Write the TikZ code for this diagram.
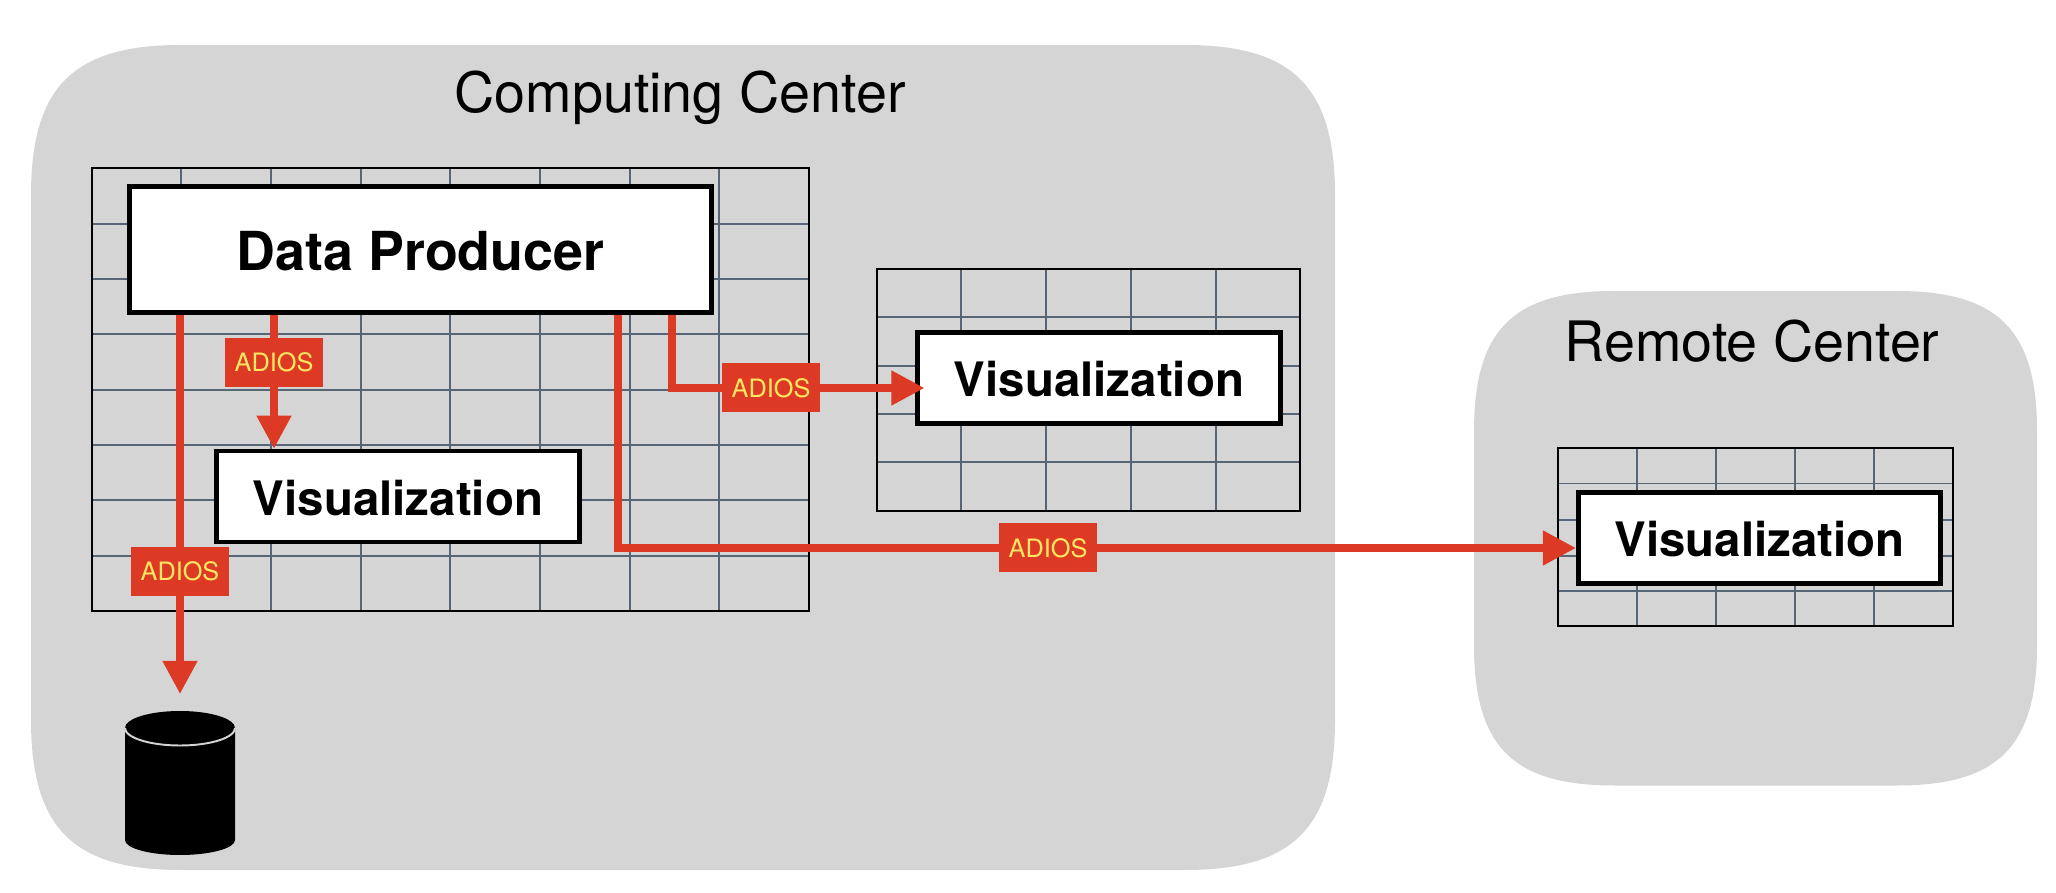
\documentclass[tikz,border=0pt]{standalone}
\usepackage{fontspec}
\setmainfont{TeX Gyre Heros}
\usetikzlibrary{positioning,arrows.meta}

\definecolor{centerbg}{HTML}{D5D5D5}
\definecolor{gridline}{HTML}{566677}
\definecolor{adiosred}{HTML}{DD3A26}
\definecolor{adiosyellow}{HTML}{FFE761}

\tikzset{
	centerbox/.style={fill=centerbg},
	centertitle/.style={anchor=base,font=\fontsize{15.85pt}{18pt}\selectfont},
	cell/.style={draw=gridline,line width=0.55pt},
	frame/.style={draw=black,line width=0.65pt},
	appbox/.style={draw=black,fill=white,line width=1.31pt,inner sep=0pt,text depth=0pt},
	producerbox/.style={appbox,minimum width=5.82cm,minimum height=1.26cm,text height=11.95pt,
		font=\fontsize{15.3pt}{18pt}\selectfont\bfseries},
	vizbox/.style={appbox,minimum width=3.625cm,minimum height=0.91cm,text height=10.8pt,
		font=\fontsize{13.5pt}{16pt}\selectfont\bfseries},
	adios/.style={fill=adiosred,text=adiosyellow,minimum width=0.98cm,minimum height=0.49cm,
		inner sep=0pt,outer sep=0pt,font=\fontsize{7.2pt}{8pt}\selectfont},
	flow/.style={draw=adiosred,line width=2.13pt},
	flowhead/.style={flow,-{Triangle[length=0.33cm,width=0.33cm]}}
}

\begin{document}
\begin{tikzpicture}
	\useasboundingbox (0,0) rectangle (20.56,8.92);

	% Centers
	\fill[centerbox] (0.31,6.97) .. controls (0.31,8.05) and (0.73,8.47) .. (1.81,8.47)
		-- (11.85,8.47) .. controls (12.93,8.47) and (13.35,8.05) .. (13.35,6.97)
		-- (13.35,1.72) .. controls (13.35,0.64) and (12.93,0.22) .. (11.85,0.22)
		-- (1.81,0.22) .. controls (0.73,0.22) and (0.31,0.64) .. (0.31,1.72) -- cycle;
	\fill[centerbox] (14.74,4.61) .. controls (14.74,5.62) and (15.13,6.01) .. (16.14,6.01)
		-- (18.97,6.01) .. controls (19.98,6.01) and (20.37,5.62) .. (20.37,4.61)
		-- (20.37,2.465) .. controls (20.37,1.455) and (19.98,1.065) .. (18.97,1.065)
		-- (16.14,1.065) .. controls (15.13,1.065) and (14.74,1.455) .. (14.74,2.465) -- cycle;
	\node[centertitle] (computing) at (6.80,7.79) {Computing Center};
	\node[centertitle] (remote) at (17.52,5.305) {Remote Center};

	% Grids
	\foreach \x in {1.81,2.71,3.61,4.50,5.40,6.30,7.19}
		\draw[cell] (\x,2.81) -- (\x,7.24);
	\foreach \y in {6.68,6.13,5.58,5.02,4.47,3.92,3.36}
		\draw[cell] (0.92,\y) -- (8.09,\y);
	\draw[frame] (0.92,2.81) rectangle (8.09,7.24);

	\foreach \x in {9.61,10.46,11.31,12.16}
		\draw[cell] (\x,3.81) -- (\x,6.23);
	\foreach \y in {5.75,5.26,4.78,4.30}
		\draw[cell] (8.77,\y) -- (13.00,\y);
	\draw[frame] (8.77,3.81) rectangle (13.00,6.23);

	\foreach \x in {16.37,17.16,17.95,18.74}
		\draw[cell] (\x,2.66) -- (\x,4.44);
	\foreach \y in {4.085,3.72,3.36,3.01}
		\draw[cell] (15.58,\y) -- (19.53,\y);
	\draw[frame] (15.58,2.66) rectangle (19.53,4.44);

	% Applications
	\node[producerbox] (producer) at (4.205,6.425) {Data Producer};
	\node[vizbox] (vizA) at (3.98,3.955) {Visualization};
	\node[vizbox] (vizB) at (10.99,5.14) {Visualization};
	\node[vizbox] (vizC) at (17.595,3.5425) {Visualization};

	% Storage
	\fill[black] (1.25,1.64) arc (180:0:0.55 and 0.17) -- (2.35,0.52)
		arc (0:-180:0.55 and 0.15) -- cycle;
	\draw[centerbg,line width=0.55pt] (1.25,1.64) arc (180:360:0.55 and 0.175);
	\coordinate (disk) at (1.80,1.98);

	% ADIOS labels
	\node[adios] (adiosA) at (2.74,5.295) {ADIOS};
	\node[adios] (adiosB) at (7.71,5.04) {ADIOS};
	\node[adios] (adiosC) at (1.80,3.205) {ADIOS};
	\node[adios] (adiosD) at (10.48,3.44) {ADIOS};
	\coordinate (tapB) at (6.72,5.04);
	\coordinate (tapD) at (6.18,3.44);

	% Connectors
	\draw[flow] (producer.south -| adiosA) -- (adiosA.north);
	\draw[flowhead] (adiosA.south) -- (vizA.north -| adiosA);
	\draw[flow] (producer.south -| adiosC) -- (adiosC.north);
	\draw[flowhead] (adiosC.south) -- (disk);
	\draw[flow] (producer.south -| tapB) |- (adiosB.west);
	\draw[flowhead,shorten >=-0.09cm] (adiosB.east) -- (vizB.west |- adiosB);
	\draw[flow] (producer.south -| tapD) |- (adiosD.west);
	\draw[flowhead] (adiosD.east) -- (vizC.west |- adiosD);
\end{tikzpicture}
\end{document}
